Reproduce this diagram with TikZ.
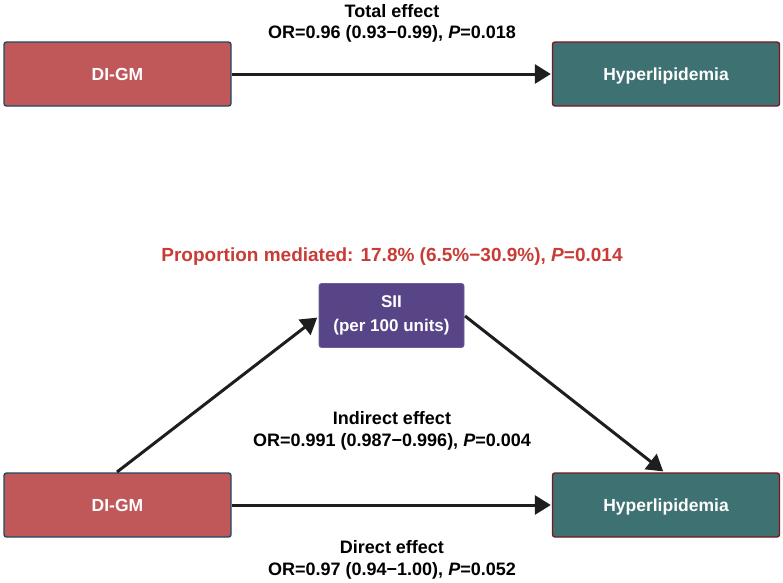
\documentclass[tikz,border=0pt]{standalone}
\usepackage{fontspec}
\setmainfont{Liberation Sans}
\usetikzlibrary{arrows.meta}
\definecolor{digm}{HTML}{C0585A}
\definecolor{digmb}{HTML}{1F4A63}
\definecolor{hyp}{HTML}{3E7171}
\definecolor{hypb}{HTML}{7A1620}
\definecolor{sii}{HTML}{584587}
\definecolor{siib}{HTML}{6E5C9C}
\definecolor{propred}{HTML}{C93C36}
\definecolor{arr}{HTML}{1E1E1E}
\tikzset{
  box/.style={rounded corners=2.5pt, line width=1.4pt, minimum width=227pt, minimum height=64pt, text=white, font=\bfseries\fontsize{17.5}{21}\selectfont, inner sep=0pt, text height=12.6pt, text depth=0pt},
  xbox/.style={box, fill=digm, draw=digmb},
  ybox/.style={box, fill=hyp, draw=hypb},
  mbox/.style={rounded corners=2.5pt, fill=sii, draw=siib, line width=0.8pt, minimum width=145pt, minimum height=64pt, text=white, align=center, inner sep=0pt, font=\bfseries\fontsize{17}{24}\selectfont},
  lab/.style={anchor=base, font=\bfseries\fontsize{18}{21}\selectfont, text=black, inner sep=0pt},
  conn/.style={draw=arr, line width=3pt, -{Triangle[length=16pt, width=19pt]}, shorten >=1pt}
}
\begin{document}
\begin{tikzpicture}[x=1pt, y=-1pt]
\useasboundingbox (0,0) rectangle (783,582);
% top panel
\node[xbox] (x1) at (117.5,74) {DI-GM};
\node[ybox] (y1) at (666,74) {Hyperlipidemia};
\draw[conn] (x1.east) -- (y1.west);
\node[lab] (t1a) at (392,17) {Total effect};
\node[lab] (t1b) at (392,38) {OR=0.96 (0.93−0.99), \textit{P}=0.018};
% bottom panel
\node[anchor=base, font=\bfseries\fontsize{19}{22}\selectfont, text=propred, inner sep=0pt] (pm) at (392,261) {Proportion mediated: 17.8\% (6.5\%−30.9\%), \textit{P}=0.014};
\node[mbox] (m) at (391.5,315.5) {SII\\(per 100 units)};
\node[xbox] (x2) at (117.5,505) {DI-GM};
\node[ybox] (y2) at (666,505) {Hyperlipidemia};
\coordinate (a1s) at (117,472);
\coordinate (a1e) at (318,317);
\coordinate (a2s) at (465,316);
\coordinate (a2e) at (664,472);
\draw[conn] (a1s) -- (a1e);
\draw[conn] (a2s) -- (a2e);
\draw[conn] (x2.east) -- (y2.west);
\node[lab] (ia) at (392,424) {Indirect effect};
\node[lab] (ib) at (392,446) {OR=0.991 (0.987−0.996), \textit{P}=0.004};
\node[lab] (da) at (392,553) {Direct effect};
\node[lab] (db) at (392,575) {OR=0.97 (0.94−1.00), \textit{P}=0.052};
\end{tikzpicture}
\end{document}
